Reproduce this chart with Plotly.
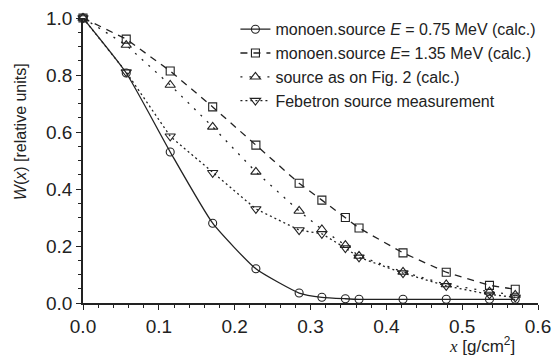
import plotly.graph_objects as go

x_vals = [0.0, 0.057, 0.115, 0.171, 0.228, 0.285, 0.315, 0.346, 0.364, 0.422, 0.479, 0.536, 0.570]
w_e075 = [1.0, 0.807, 0.530, 0.280, 0.120, 0.035, 0.020, 0.015, 0.013, 0.013, 0.013, 0.013, 0.013]
w_e135 = [1.0, 0.926, 0.814, 0.688, 0.554, 0.420, 0.361, 0.300, 0.263, 0.176, 0.108, 0.062, 0.048]
w_fig2 = [1.0, 0.905, 0.765, 0.618, 0.460, 0.323, 0.258, 0.203, 0.165, 0.109, 0.065, 0.040, 0.028]
w_feb = [1.0, 0.810, 0.585, 0.457, 0.330, 0.256, 0.243, 0.193, 0.160, 0.105, 0.060, 0.030, 0.020]

names = [
    "monoen.source <i>E</i> = 0.75 MeV (calc.)",
    "monoen.source <i>E</i>= 1.35 MeV (calc.)",
    "source as on Fig. 2 (calc.)",
    "Febetron source measurement",
]

C = "#222222"
fig = go.Figure()
fig.add_trace(go.Scatter(x=x_vals, y=w_e075, name=names[0], mode="lines+markers",
                         line=dict(color=C, width=1.3, shape="spline", smoothing=0.5),
                         marker=dict(symbol="circle-open", size=8, color=C, line=dict(width=1.1)),
                         cliponaxis=False))
fig.add_trace(go.Scatter(x=x_vals, y=w_e135, name=names[1], mode="lines+markers",
                         line=dict(color=C, width=1.3, dash="7px,6px"),
                         marker=dict(symbol="square-open", size=8, color=C, line=dict(width=1.1)),
                         cliponaxis=False))
fig.add_trace(go.Scatter(x=x_vals, y=w_fig2, name=names[2], mode="lines+markers",
                         line=dict(color=C, width=1.3, dash="2px,7px"),
                         marker=dict(symbol="triangle-up-open", size=9, color=C, line=dict(width=1.1)),
                         cliponaxis=False))
fig.add_trace(go.Scatter(x=x_vals, y=w_feb, name=names[3], mode="lines+markers",
                         line=dict(color=C, width=1.3, dash="2px,3px"),
                         marker=dict(symbol="triangle-down-open", size=9, color=C, line=dict(width=1.1)),
                         cliponaxis=False))

axis_common = dict(showline=True, linecolor=C, linewidth=1.5, ticks="outside", ticklen=5,
                   tickwidth=1.3, tickcolor=C, showgrid=False, zeroline=False,
                   tickfont=dict(family="Liberation Sans, Arial", size=19, color=C))

fig.update_xaxes(range=[0, 0.6], dtick=0.1, tickformat=".1f",
                 minor=dict(dtick=0.02, ticks="outside", ticklen=3, tickcolor=C, tickwidth=1),
                 **axis_common)
fig.update_yaxes(range=[0, 1.0], dtick=0.2, tickformat=".1f",
                 minor=dict(dtick=0.05, ticks="outside", ticklen=3, tickcolor=C, tickwidth=1),
                 **axis_common)

fig.add_annotation(xref="paper", yref="paper", x=-0.138, y=0.60, showarrow=False,
                   xanchor="center", yanchor="middle",
                   textangle=-90, text="<i>W</i>(<i>x</i>) [relative units]",
                   font=dict(family="Liberation Sans, Arial", size=16, color=C))
fig.add_annotation(xref="paper", yref="paper", x=0.877, y=-0.147, showarrow=False,
                   xanchor="center", yanchor="middle",
                   text="<span style=\"font-family:'Liberation Serif';font-style:italic\">x</span> [g/cm<sup>2</sup>]",
                   font=dict(family="Liberation Sans, Arial", size=17, color=C))

fig.update_layout(
    width=552, height=360,
    margin=dict(l=83, r=14, t=18, b=57, autoexpand=False),
    paper_bgcolor="white", plot_bgcolor="white",
    showlegend=True,
    legend=dict(x=0.335, y=1.02, xanchor="left", yanchor="top", bgcolor="rgba(0,0,0,0)",
                font=dict(family="Liberation Sans, Arial", size=16, color=C),
                itemwidth=30, tracegroupgap=0),
)

fig.write_html("out.html")
